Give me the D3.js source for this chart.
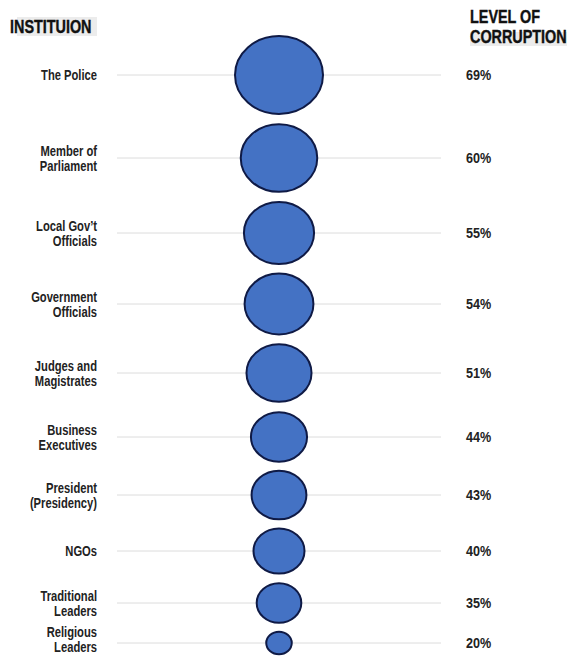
<!DOCTYPE html>
<html><head><meta charset="utf-8">
<script src="https://cdn.jsdelivr.net/npm/d3@7"></script>
<style>
body{margin:0;background:#fff;}
text{font-family:"Liberation Sans",Arial,sans-serif;}
</style></head>
<body><svg id="c" width="567" height="657"></svg>
<script>
const categories = [["The Police"],["Member of","Parliament"],["Local Gov\u2019t","Officials"],["Government","Officials"],["Judges and","Magistrates"],["Business","Executives"],["President","(Presidency)"],["NGOs"],["Traditional","Leaders"],["Religious","Leaders"]];
const values = [69,60,55,54,51,44,43,40,35,20];
const rowY = [75,158,233,304,373,437,495,551,603,643];
const headers = ["INSTITUION", "LEVEL OF", "CORRUPTION"];

const svg = d3.select("#c");
const r = d3.scaleLinear().domain([0,69]).range([0,44]);
const cx = 279;

// header backgrounds
svg.append("rect").attr("x",17).attr("y",17).attr("width",80).attr("height",19).attr("fill","#ececec");
svg.append("rect").attr("x",470).attr("y",32).attr("width",97).attr("height",14).attr("fill","#ececec");
function cond(x,y,sx){ return svg.append("g").attr("transform",`translate(${x},${y}) scale(${sx},1)`); }
cond(10,33,0.8).append("text").text(headers[0]).attr("font-weight","bold").attr("font-size",18).attr("fill","#111").attr("stroke","#111").attr("stroke-width",0.4);
cond(470,23,0.8).append("text").text(headers[1]).attr("font-weight","bold").attr("font-size",18).attr("fill","#111").attr("stroke","#111").attr("stroke-width",0.4);
cond(470,43,0.8).append("text").text(headers[2]).attr("font-weight","bold").attr("font-size",18).attr("fill","#111").attr("stroke","#111").attr("stroke-width",0.4);

const rows = svg.selectAll("g.row").data(values).enter().append("g").attr("class","row");
rows.append("line").attr("x1",117).attr("x2",441).attr("y1",(d,i)=>rowY[i]).attr("y2",(d,i)=>rowY[i])
  .attr("stroke","#dcdcdc").attr("stroke-width",1);
rows.append("ellipse").attr("cx",cx).attr("cy",(d,i)=>rowY[i])
  .attr("rx",d=>r(d)).attr("ry",d=>r(d)*0.885)
  .attr("fill","#4472C4").attr("stroke","#0f1a45").attr("stroke-width",2);
rows.append("g").attr("transform",(d,i)=>`translate(466,${rowY[i]+5}) scale(0.9,1)`)
  .append("text").text(d=>d+"%")
  .attr("font-weight","bold").attr("font-size",14).attr("fill","#222");
rows.each(function(d,i){
  const lines = categories[i];
  const lh = 15;
  const base = Math.min(rowY[i]+5, 652 - (lines.length-1)/2*lh);
  const t = d3.select(this).append("g").attr("transform",`translate(97,${base}) scale(0.8,1)`)
    .append("text").attr("text-anchor","end").attr("font-size",14).attr("font-weight","bold").attr("fill","#222");
  lines.forEach((s,j)=>{
    t.append("tspan").attr("x",0).attr("y",(j-(lines.length-1)/2)*lh).text(s);
  });
});
</script></body></html>
